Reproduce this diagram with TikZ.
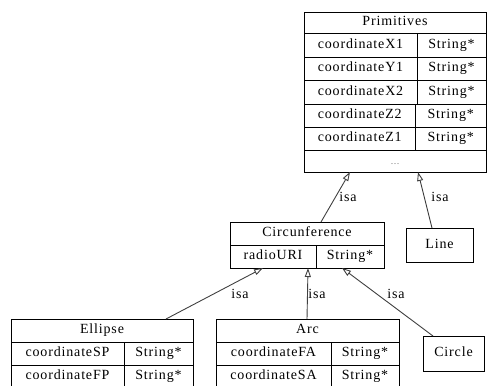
\documentclass[tikz,border=0pt]{standalone}
\usepackage{fontspec}
\setmainfont{Liberation Serif}[LetterSpace=6]
\usetikzlibrary{arrows.meta,calc}
\begin{document}
\begin{tikzpicture}[x=1pt,y=-1pt,
  every node/.style={font=\fontsize{14}{16}\selectfont},
  box/.style={draw, rectangle, inner sep=0pt, outer sep=0pt, anchor=north west, line width=0.8pt, text height=9.5pt, text depth=3pt},
  isa/.style={draw=black!75, line width=0.9pt, -{Triangle[open,length=9pt,width=6pt]}},
  lab/.style={inner sep=0pt}]
\useasboundingbox (0,0) rectangle (494,385);
\clip (0,0) rectangle (494,385);
% Primitives
\node[box, minimum width=182pt, minimum height=160pt] (prim) at (304,12) {};
\node[box, minimum width=182pt, minimum height=21pt] (pt) at (304,12) {Primitives};
\node[box, minimum width=113pt, minimum height=24pt] (p1a) at (304,33) {coordinateX1};
\node[box, minimum width=69pt, minimum height=24pt] (p1b) at (417,33) {String*};
\node[box, minimum width=113pt, minimum height=23pt] (p2a) at (304,57) {coordinateY1};
\node[box, minimum width=69pt, minimum height=23pt] (p2b) at (417,57) {String*};
\node[box, minimum width=113pt, minimum height=24pt] (p3a) at (304,80) {coordinateX2};
\node[box, minimum width=69pt, minimum height=24pt] (p3b) at (417,80) {String*};
\node[box, minimum width=111.5pt, minimum height=23pt] (p4a) at (304,104) {coordinateZ2};
\node[box, minimum width=70.5pt, minimum height=23pt] (p4b) at (415.5,104) {String*};
\node[box, minimum width=111.5pt, minimum height=23pt] (p5a) at (304,127) {coordinateZ1};
\node[box, minimum width=70.5pt, minimum height=23pt] (p5b) at (415.5,127) {String*};
\node[box, minimum width=182pt, minimum height=22pt, text=black!60] (p6) at (304,150) {\fontsize{9}{10}\selectfont\ldots};
% Line
\node[box, minimum width=67pt, minimum height=34pt] (line) at (406,228) {Line};
% Circumference
\node[box, minimum width=154pt, minimum height=46pt] (circ) at (230,222) {};
\node[box, minimum width=154pt, minimum height=23pt] (ct) at (230,222) {Circunference};
\node[box, minimum width=86pt, minimum height=23pt] (c1a) at (230,245) {radioURI};
\node[box, minimum width=68pt, minimum height=23pt] (c1b) at (316,245) {String*};
% Ellipse
\node[box, minimum width=182pt, minimum height=69pt] (ell) at (11,319) {};
\node[box, minimum width=182pt, minimum height=23pt] (et) at (11,319) {Ellipse};
\node[box, minimum width=113pt, minimum height=23pt] (e1a) at (11,342) {coordinateSP};
\node[box, minimum width=69pt, minimum height=23pt] (e1b) at (124,342) {String*};
\node[box, minimum width=113pt, minimum height=23pt] (e2a) at (11,365) {coordinateFP};
\node[box, minimum width=69pt, minimum height=23pt] (e2b) at (124,365) {String*};
% Arc
\node[box, minimum width=183pt, minimum height=69pt] (arc) at (216,319) {};
\node[box, minimum width=183pt, minimum height=23pt] (at) at (216,319) {Arc};
\node[box, minimum width=115pt, minimum height=23pt] (a1a) at (216,342) {coordinateFA};
\node[box, minimum width=68pt, minimum height=23pt] (a1b) at (331,342) {String*};
\node[box, minimum width=115pt, minimum height=23pt] (a2a) at (216,365) {coordinateSA};
\node[box, minimum width=68pt, minimum height=23pt] (a2b) at (331,365) {String*};
% Circle
\node[box, minimum width=61pt, minimum height=35pt] (circle) at (423,336) {Circle};
% edges
\draw[isa] ([xshift=14pt]circ.north) -- ([xshift=-45pt]prim.south);
\draw[isa] ([xshift=-7.5pt]line.north) -- ([xshift=23pt]prim.south);
\draw[isa] ([xshift=64pt]ell.north) -- ([xshift=-44pt]circ.south);
\draw[isa] ([xshift=-0.5pt]arc.north) -- ([xshift=1pt]circ.south);
\draw[isa] ([xshift=-20.5pt]circle.north) -- ([xshift=35pt]circ.south);
% labels
\node[lab] (l1) at (348,197) {isa};
\node[lab] (l2) at (440,197) {isa};
\node[lab] (l3) at (240,294) {isa};
\node[lab] (l4) at (317,294) {isa};
\node[lab] (l5) at (396,294) {isa};
\end{tikzpicture}
\end{document}
